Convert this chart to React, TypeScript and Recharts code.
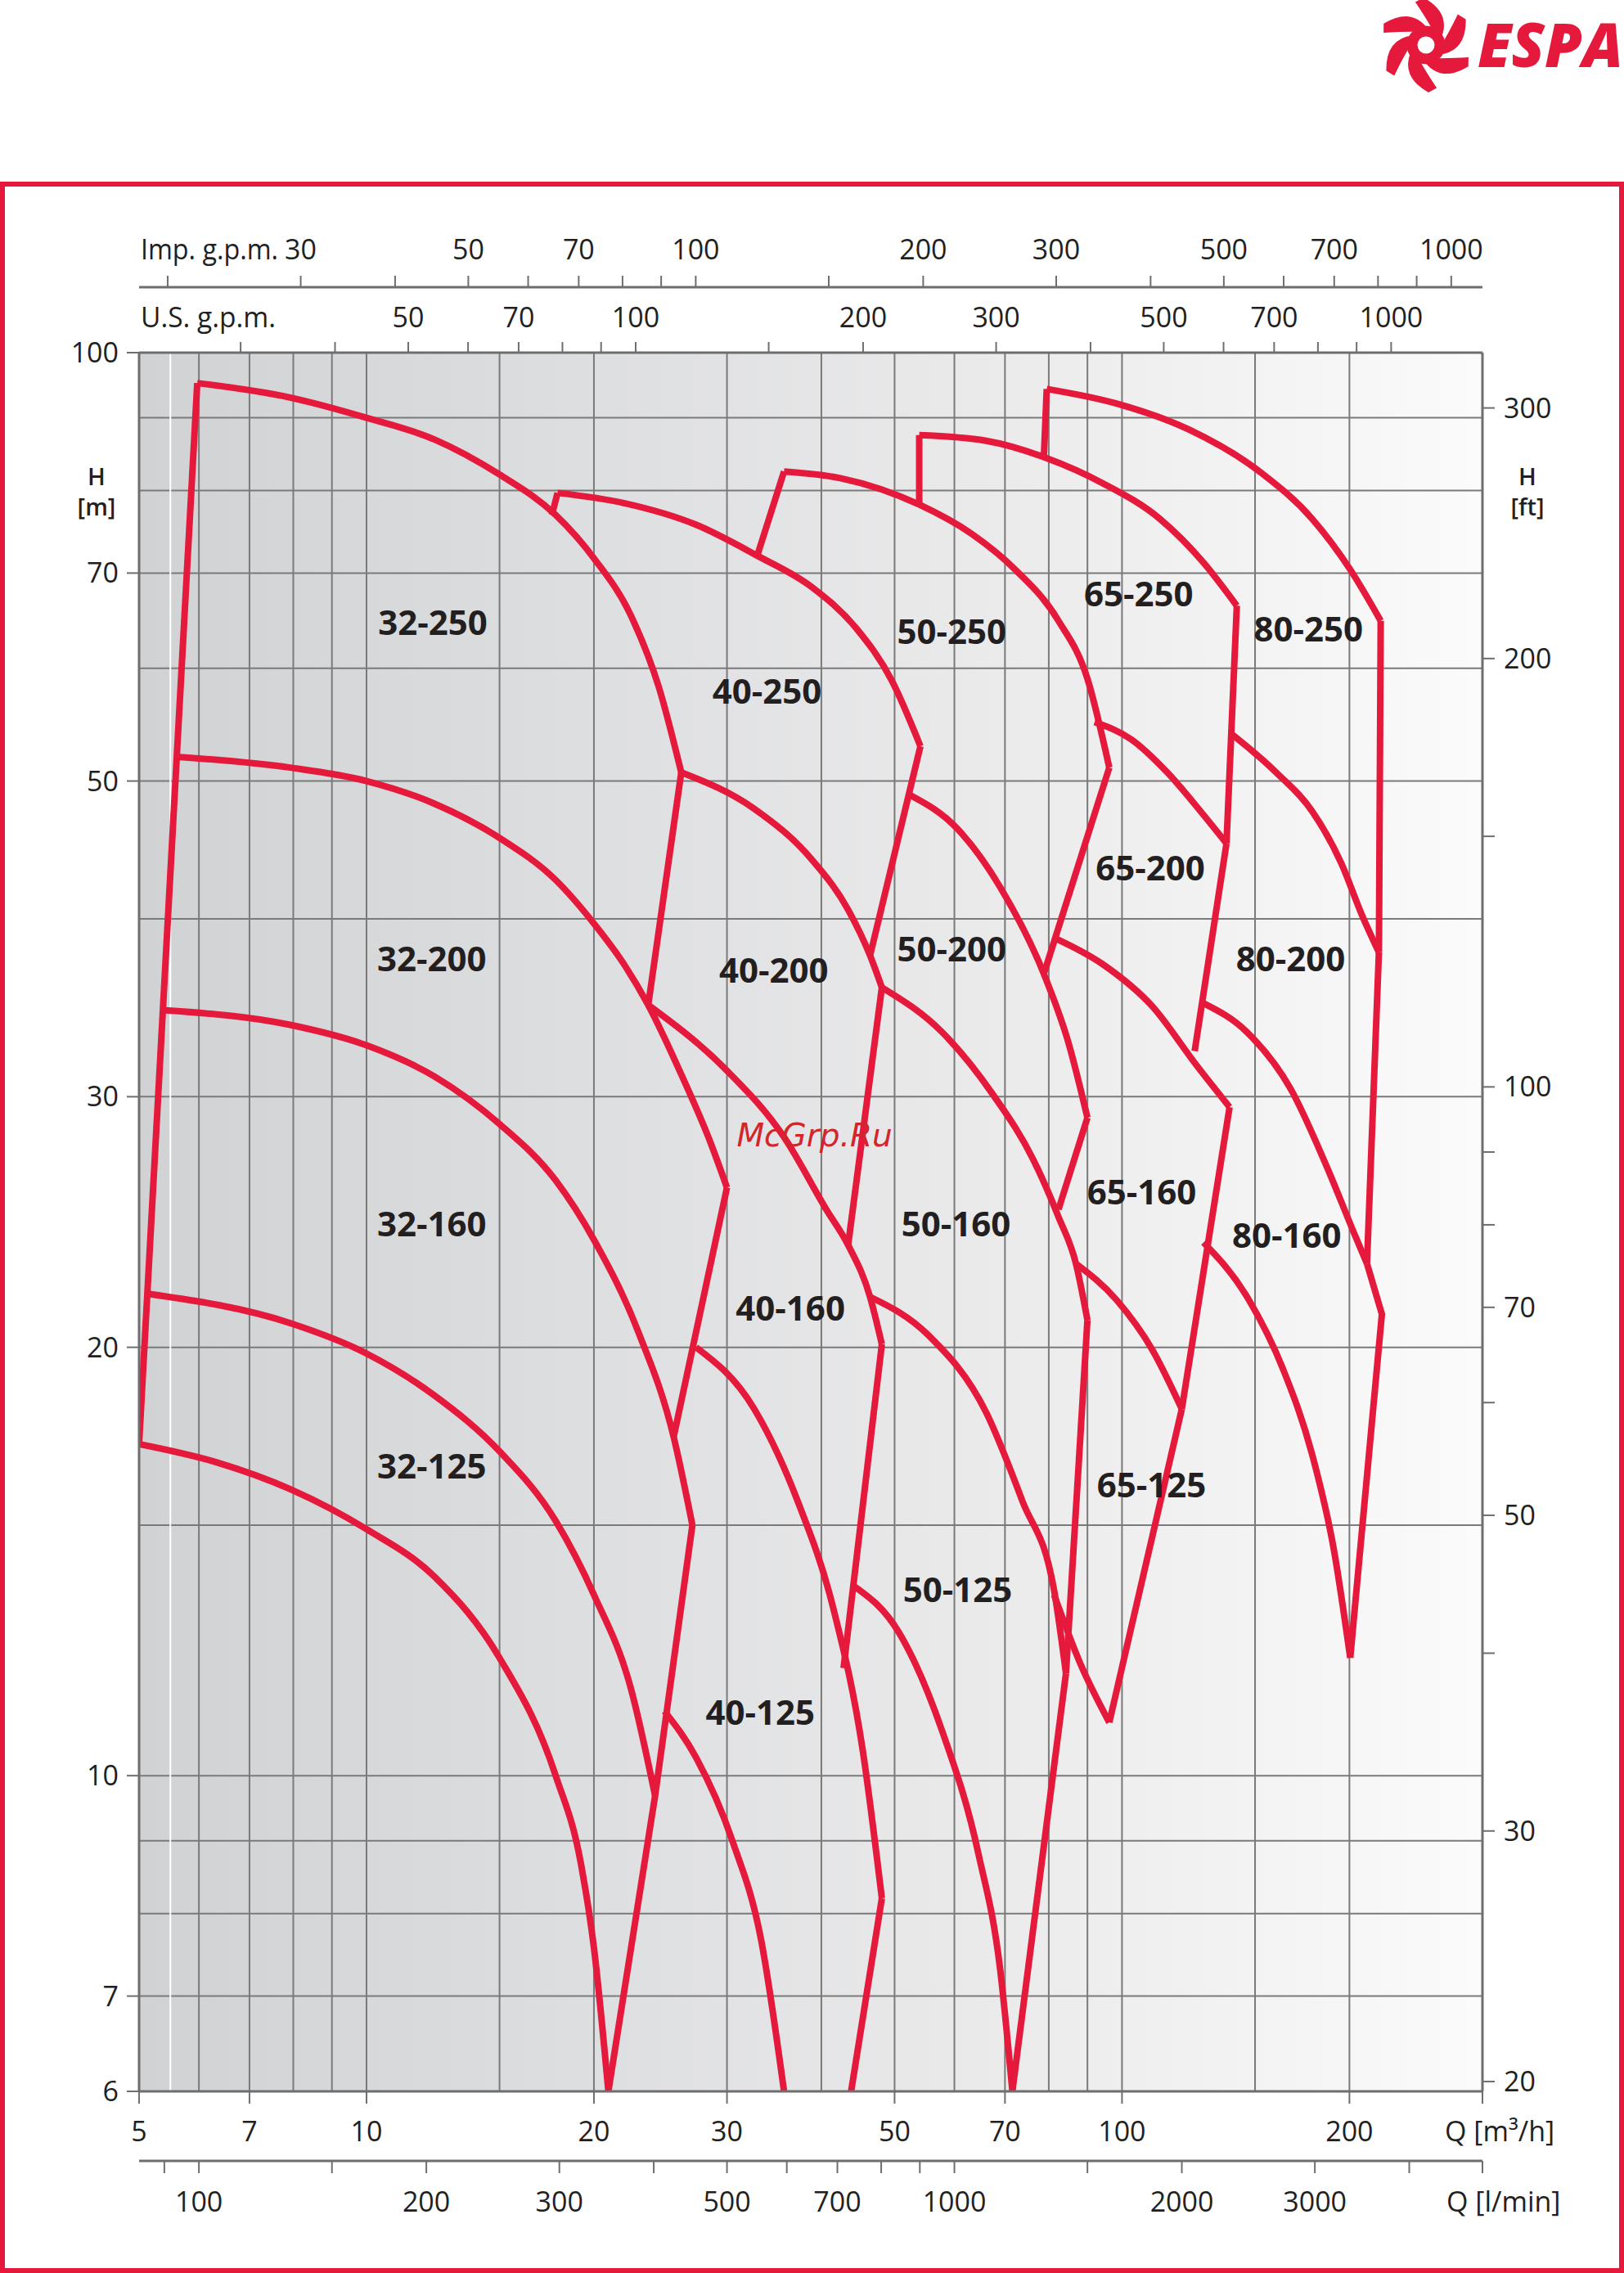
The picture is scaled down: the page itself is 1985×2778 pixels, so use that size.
import React from 'react';
import { LineChart, Line, XAxis, YAxis, CartesianGrid, ReferenceLine, ReferenceDot } from 'recharts';

const W = 1985;
const H = 2778;
const RED = '#e5193b';
const GRID = '#7a7a7a';
const AXIS = '#6e6e6e';
const INK = '#231f20';
const FONT = "'Open Sans', 'Noto Sans', 'DejaVu Sans', sans-serif";

// ---------- axes ----------
const qTicks = [5, 7, 10, 20, 30, 50, 70, 100, 200, 300];
const qLabels = [5, 7, 10, 20, 30, 50, 70, 100, 200];
const hTicks = [6, 7, 10, 20, 30, 50, 70, 100];
const gridQ = [6, 7, 8, 9, 10, 15, 20, 30, 40, 50, 60, 70, 80, 90, 100, 150, 200];
const gridH = [7, 8, 9, 10, 15, 20, 30, 40, 50, 60, 70, 80, 90];
const impTicks = [20, 30, 40, 50, 60, 70, 80, 90, 100, 150, 200, 300, 400, 500, 600, 700, 800, 900, 1000];
const impLabels = [30, 50, 70, 100, 200, 300, 500, 700, 1000];
const usTicks = [30, 40, 50, 60, 70, 80, 90, 100, 150, 200, 300, 400, 500, 600, 700, 800, 900, 1000];
const usLabels = [50, 70, 100, 200, 300, 500, 700, 1000];
const lminTicks = [90, 100, 150, 200, 300, 400, 500, 600, 700, 800, 900, 1000, 1500, 2000, 3000, 4000, 5000];
const lminLabels = [100, 200, 300, 500, 700, 1000, 2000, 3000];
const ftTicks = [20, 30, 40, 50, 60, 70, 80, 90, 100, 150, 200, 300];
const ftLabels = [20, 30, 50, 70, 100, 200, 300];

const Q_MIN = 5;
const Q_MAX = 300;
const H_MIN = 6;
const H_MAX = 100;
const IMP_M3H = 0.2727654; // m3/h per Imp. g.p.m.
const US_M3H = 0.2271247; // m3/h per U.S. g.p.m.
const LMIN_M3H = 0.06; // m3/h per l/min
const FT_M = 0.3048; // m per ft

// axis ids (ordered so that the first of each side sits next to the plot)
const XQ = 'b1q';
const XLMIN = 'b2lmin';
const XUS = 't1us';
const XIMP = 't2imp';
const YM = 'm';
const YFT = 'ft';

type Pt = [number, number]; // [Q m3/h, H m]

// ---------- family 32 ----------
const c32_250: Pt[] = [[5.97, 95.2], [7.92, 93.0], [10, 90.0], [12.3, 86.9], [15, 82.1], [17.8, 76.9], [20, 71.7], [22.4, 65.3], [24.4, 58.1], [26.1, 50.7]];
const c32_200: Pt[] = [[5.61, 52.0], [7.92, 51.1], [10, 50.0], [12.3, 48.2], [15, 45.6], [17.8, 42.6], [20, 39.7], [21.9, 37.2], [23.6, 34.8], [26.1, 31.1], [28.5, 27.9], [30, 25.9]];
const c32_160: Pt[] = [[5.41, 34.5], [7.92, 33.7], [10, 32.6], [12.3, 31.0], [15, 28.7], [17.8, 26.2], [20, 23.8], [22.9, 20.5], [25.5, 17.3], [27.0, 15.0]];
const c32_125: Pt[] = [[5.16, 21.8], [7.92, 20.8], [10, 19.8], [12.3, 18.5], [15, 16.9], [17.8, 15.1], [20, 13.4], [22.4, 11.5], [24.1, 9.68]];
const c32_min: Pt[] = [[5, 17.1], [6.34, 16.6], [7.92, 15.9], [10, 14.9], [12.3, 13.8], [15, 12.1], [17.8, 10.0], [19.2, 8.7], [20, 7.57], [20.9, 6.0]];
const b32: Pt[][] = [
  [[5, 17.1], [5.97, 95.2]],
  [[26.1, 50.7], [23.6, 34.8]],
  [[30, 25.9], [25.5, 17.3]],
  [[27.0, 15.0], [24.1, 9.68]],
  [[24.1, 9.68], [20.9, 6.0]],
];

// ---------- family 40 ----------
const c40_250: Pt[] = [[17.9, 79.7], [21.9, 78.4], [27.3, 75.7], [32.9, 72.0], [38.9, 68.4], [44.4, 64.1], [49.6, 58.8], [54.1, 52.9]];
const c40_200: Pt[] = [[26.1, 50.7], [32.6, 47.8], [38.9, 44.0], [43.4, 40.6], [46.4, 37.7], [48.1, 35.8]];
const c40_160: Pt[] = [[23.6, 34.8], [29.8, 31.4], [35.7, 28.1], [40.6, 25.0], [43.4, 23.6], [46.4, 21.7], [48.1, 20.1]];
const c40_125: Pt[] = [[27.3, 20.0], [32.6, 18.1], [37.2, 15.6], [41.5, 13.1], [45.4, 10.4], [48.1, 8.2]];
const c40_min: Pt[] = [[24.8, 11.1], [27.3, 10.3], [30.5, 9.0], [33.3, 7.66], [35.7, 6.0]];
const b40: Pt[][] = [
  [[17.6, 76.9], [17.9, 79.7]],
  [[54.1, 52.9], [46.4, 37.7]],
  [[48.1, 35.8], [43.4, 23.6]],
  [[48.1, 20.1], [42.8, 11.9]],
  [[48.1, 8.2], [43.8, 6.0]],
];

// ---------- family 50 ----------
const c50_250: Pt[] = [[35.7, 82.5], [42.5, 81.6], [53.9, 78.2], [63.2, 74.6], [72.2, 70.4], [82.4, 64.8], [90, 59.0], [96.2, 51.1]];
const c50_200: Pt[] = [[52.3, 48.9], [60.5, 46.3], [69.0, 42.1], [78.8, 36.6], [85.0, 32.7], [90, 29.0]];
const c50_160: Pt[] = [[48.1, 35.8], [57.8, 33.3], [67.5, 30.1], [76.3, 27.1], [82.4, 24.7], [86.9, 22.9], [90, 20.9]];
const c50_125: Pt[] = [[46.4, 21.7], [55.4, 20.4], [66.1, 18.0], [73.8, 15.6], [81.3, 13.5], [84.3, 11.8]];
const c50_min: Pt[] = [[44.1, 13.6], [50.7, 12.6], [57.8, 10.75], [64.6, 8.8], [69.0, 7.3], [71.6, 6.0]];
const b50: Pt[][] = [
  [[32.9, 72.0], [35.7, 82.5]],
  [[96.2, 51.1], [78.8, 36.6]],
  [[90, 29.0], [82.4, 25.0]],
  [[90, 20.9], [84.3, 11.8]],
  [[84.3, 11.8], [71.6, 6.0]],
];

// ---------- family 65 ----------
const c65_250: Pt[] = [[53.9, 87.5], [66.1, 86.7], [79.5, 84.3], [94.1, 81.0], [112.3, 76.4], [128.2, 71.2], [141.9, 66.4]];
const c65_200: Pt[] = [[92.0, 55.0], [102.8, 53.5], [114.8, 50.7], [127.1, 47.6], [137.5, 45.2]];
const c65_160: Pt[] = [[81.3, 38.8], [94.1, 37.2], [109.8, 34.7], [125.3, 31.6], [138.8, 29.5]];
const c65_125: Pt[] = [[86.9, 22.9], [98.3, 21.6], [109.8, 19.9], [120, 18.1]];
const c65_min: Pt[] = [[81.3, 13.4], [88.0, 12.0], [96.2, 10.9]];
const b65: Pt[][] = [
  [[53.9, 78.2], [53.9, 87.5]],
  [[141.9, 66.4], [137.5, 45.2]],
  [[137.5, 45.2], [124.8, 32.3]],
  [[138.8, 29.5], [120, 18.1]],
  [[120, 18.1], [96.2, 10.9]],
];

// ---------- family 80 ----------
const c80_250: Pt[] = [[79.5, 94.3], [98.3, 92.1], [122.6, 88.3], [153, 82.3], [178.6, 76.4], [200.5, 70.4], [220, 64.8]];
const c80_200: Pt[] = [[140, 53.9], [160, 50.7], [178.6, 47.6], [195, 43.8], [208, 40.2], [218.8, 37.9]];
const c80_160: Pt[] = [[128.2, 34.9], [146.4, 33.3], [167.1, 30.4], [186.6, 26.8], [203.9, 23.9], [211, 22.9]];
const c80_125: Pt[] = [[128.2, 23.7], [146.4, 21.7], [163.4, 19.3], [178.6, 16.8], [190.8, 14.4], [200.5, 12.1]];
const b80: Pt[][] = [
  [[78.8, 84.3], [79.5, 94.3]],
  [[220, 64.8], [218.8, 37.9]],
  [[218.8, 37.9], [211, 22.9]],
  [[211, 22.9], [220.8, 21.1], [200.5, 12.1]],
];

// ---------- region labels ----------
const labelNames = ['32-250', '32-200', '32-160', '32-125', '40-250', '40-200', '40-160', '40-125', '50-250', '50-200', '50-160', '50-125', '65-250', '65-200', '65-160', '65-125', '80-250', '80-200', '80-160'];
const labelQ = [12.24, 12.2, 12.2, 12.2, 33.9, 34.6, 36.4, 33.2, 59.5, 59.5, 60.3, 60.6, 105.2, 109.0, 106.2, 109.4, 176.5, 167.2, 165.2];
const labelH = [64.6, 37.5, 24.4, 16.5, 57.8, 36.8, 21.3, 11.07, 63.7, 38.1, 24.4, 13.5, 67.7, 43.4, 25.7, 16.0, 63.9, 37.5, 23.96];

const watermark = { text: 'McGrp.Ru', q: 30.9, h: 27.7 };

const smoothCurves: Pt[][] = [
  c32_250, c32_200, c32_160, c32_125, c32_min,
  c40_250, c40_200, c40_160, c40_125, c40_min,
  c50_250, c50_200, c50_160, c50_125, c50_min,
  c65_250, c65_200, c65_160, c65_125, c65_min,
  c80_250, c80_200, c80_160, c80_125,
];
const straightLines: Pt[][] = [...b32, ...b40, ...b50, ...b65, ...b80];

const toRows = (pts: Pt[]) => pts.map(([q, h]) => ({ q, h }));

// invisible spans that give each secondary scale its range
const spanRows = (lo: number, hi: number) => [{ v: lo, h: 50 }, { v: hi, h: 50 }];
const LMIN_SPAN = spanRows(Q_MIN / LMIN_M3H, Q_MAX / LMIN_M3H);
const US_SPAN = spanRows(Q_MIN / US_M3H, Q_MAX / US_M3H);
const IMP_SPAN = spanRows(Q_MIN / IMP_M3H, Q_MAX / IMP_M3H);

const near = (a: number, b: number) => Math.abs(a - b) <= Math.abs(b) * 1e-6;

function makeTick(labels: number[], dy: number, anchor: 'start' | 'middle' | 'end', special?: { value: number; text: string; dx: number }) {
  return (props: any) => {
    const { x, y, payload } = props;
    const v = Number(payload && payload.value);
    if (special && near(v, special.value)) {
      return (
        <text x={x + special.dx} y={y + dy} textAnchor="start" fontFamily={FONT} fontSize={34} fill={INK}>
          {special.text}
        </text>
      );
    }
    if (!labels.some((l) => near(v, l))) return <g />;
    return (
      <text x={x} y={y + dy} textAnchor={anchor} fontFamily={FONT} fontSize={34} fill={INK}>
        {String(v)}
      </text>
    );
  };
}

const BottomQTick = makeTick(qLabels, 46, 'middle', { value: 300, text: 'Q [m³/h]', dx: -46 });
const LminTick = makeTick(lminLabels, 47, 'middle', { value: 5000, text: 'Q [l/min]', dx: -44 });
const UsTick = makeTick(usLabels, -18, 'middle');
const ImpTick = makeTick(impLabels, -20, 'middle');
const LeftTick = makeTick(hTicks, 12, 'end');
const RightTick = makeTick(ftLabels, 12, 'start');

const TICK_LINE = { stroke: AXIS, strokeWidth: 2 };
const AXIS_LINE = { stroke: AXIS, strokeWidth: 3 };

function polar(cx: number, cy: number, r: number, deg: number) {
  const a = (deg * Math.PI) / 180;
  return `${(cx + r * Math.cos(a)).toFixed(1)},${(cy + r * Math.sin(a)).toFixed(1)}`;
}

function Logo() {
  const cx = 1743;
  const cy = 55;
  const tips = [-156, -96, -36, 24, 84, 144];
  return (
    <g>
      {tips.map((t) => (
        <path
          key={t}
          d={`M${polar(cx, cy, 20, t + 72)} Q${polar(cx, cy, 50, t + 45)} ${polar(cx, cy, 58, t + 3)} L${polar(cx, cy, 54, t - 8)} Q${polar(cx, cy, 33, t + 6)} ${polar(cx, cy, 20, t + 30)} Z`}
          fill={RED}
        />
      ))}
      <circle cx={cx} cy={cy} r={17} fill="none" stroke={RED} strokeWidth={13} />
      <text x={1806} y={82} fontFamily={FONT} fontSize={74} fontWeight={800} fontStyle="italic" fill={RED} textLength={178} lengthAdjust="spacingAndGlyphs">
        ESPA
      </text>
    </g>
  );
}

const lineProps = {
  xAxisId: XQ,
  yAxisId: YM,
  dataKey: 'h',
  stroke: RED,
  strokeWidth: 8,
  dot: false,
  activeDot: false,
  isAnimationActive: false,
  legendType: 'none' as const,
  strokeLinejoin: 'miter' as const,
  strokeLinecap: 'butt' as const,
};
const hiddenProps = {
  yAxisId: YM,
  dataKey: 'h',
  stroke: 'none',
  strokeWidth: 0,
  dot: false,
  activeDot: false,
  isAnimationActive: false,
  legendType: 'none' as const,
  type: 'linear' as const,
};

export default function App() {
  return (
    <div style={{ position: 'absolute', left: 0, top: 0, width: W, height: H, background: '#ffffff', overflow: 'hidden' }}>
      <LineChart width={W} height={H} margin={{ top: 221, right: 0, bottom: 37, left: 0 }}>
        <defs>
          <linearGradient id="bgGrad" x1="0" y1="0" x2="1" y2="0">
            <stop offset="0" stopColor="#d1d2d4" />
            <stop offset="0.3" stopColor="#dcdddf" />
            <stop offset="0.6" stopColor="#e9e9ea" />
            <stop offset="0.85" stopColor="#f4f4f4" />
            <stop offset="1" stopColor="#fbfbfb" />
          </linearGradient>
        </defs>
        <CartesianGrid
          xAxisId={XQ}
          yAxisId={YM}
          fill="url(#bgGrad)"
          fillOpacity={1}
          stroke={GRID}
          strokeWidth={2}
          horizontalValues={gridH}
          verticalValues={gridQ}
        />
        <ReferenceLine xAxisId={XQ} yAxisId={YM} x={5.5} stroke="#ffffff" strokeWidth={2} zIndex={-50} />

        <XAxis
          xAxisId={XQ}
          dataKey="q"
          type="number"
          scale="log"
          domain={[Q_MIN, Q_MAX]}
          allowDataOverflow
          ticks={qTicks}
          interval={0}
          orientation="bottom"
          height={85}
          tickSize={15}
          tickMargin={0}
          tickLine={TICK_LINE}
          axisLine={AXIS_LINE}
          tick={BottomQTick}
        />
        <XAxis
          xAxisId={XLMIN}
          dataKey="v"
          type="number"
          scale="log"
          domain={[Q_MIN / LMIN_M3H, Q_MAX / LMIN_M3H]}
          allowDataOverflow
          ticks={lminTicks}
          interval={0}
          orientation="bottom"
          height={100}
          tickSize={15}
          tickMargin={0}
          tickLine={TICK_LINE}
          axisLine={AXIS_LINE}
          tick={LminTick}
        />
        <XAxis
          xAxisId={XUS}
          dataKey="v"
          type="number"
          scale="log"
          domain={[Q_MIN / US_M3H, Q_MAX / US_M3H]}
          allowDataOverflow
          ticks={usTicks}
          interval={0}
          orientation="top"
          height={80}
          tickSize={13}
          tickMargin={0}
          tickLine={TICK_LINE}
          axisLine={AXIS_LINE}
          tick={UsTick}
        />
        <XAxis
          xAxisId={XIMP}
          dataKey="v"
          type="number"
          scale="log"
          domain={[Q_MIN / IMP_M3H, Q_MAX / IMP_M3H]}
          allowDataOverflow
          ticks={impTicks}
          interval={0}
          orientation="top"
          height={130}
          tickSize={14}
          tickMargin={0}
          tickLine={TICK_LINE}
          axisLine={AXIS_LINE}
          tick={ImpTick}
        />
        <YAxis
          yAxisId={YM}
          type="number"
          scale="log"
          domain={[H_MIN, H_MAX]}
          allowDataOverflow
          ticks={hTicks}
          interval={0}
          orientation="left"
          width={170}
          tickSize={15}
          tickMargin={10}
          tickLine={TICK_LINE}
          axisLine={AXIS_LINE}
          tick={LeftTick}
        />
        <YAxis
          yAxisId={YFT}
          type="number"
          scale="log"
          domain={[H_MIN / FT_M, H_MAX / FT_M]}
          allowDataOverflow
          ticks={ftTicks}
          interval={0}
          orientation="right"
          width={173}
          tickSize={15}
          tickMargin={11}
          tickLine={TICK_LINE}
          axisLine={AXIS_LINE}
          tick={RightTick}
        />

        <Line {...hiddenProps} xAxisId={XLMIN} data={LMIN_SPAN} />
        <Line {...hiddenProps} xAxisId={XUS} data={US_SPAN} />
        <Line {...hiddenProps} xAxisId={XIMP} data={IMP_SPAN} />

        {smoothCurves.map((pts, i) => (
          <Line key={`c${i}`} {...lineProps} data={toRows(pts)} type="monotone" />
        ))}
        {straightLines.map((pts, i) => (
          <Line key={`s${i}`} {...lineProps} data={toRows(pts)} type="linear" />
        ))}

        {labelNames.map((name, i) => (
          <ReferenceDot
            key={name}
            xAxisId={XQ}
            yAxisId={YM}
            x={labelQ[i]}
            y={labelH[i]}
            r={0}
            fill="none"
            stroke="none"
            shape={(p: any) => (
              <text x={p.cx} y={p.cy + 15} textAnchor="middle" fontFamily={FONT} fontSize={42} fontWeight={700} fill={INK}>
                {name}
              </text>
            )}
          />
        ))}
        <ReferenceDot
          xAxisId={XQ}
          yAxisId={YM}
          x={watermark.q}
          y={watermark.h}
          r={0}
          fill="none"
          stroke="none"
          shape={(p: any) => (
            <text x={p.cx} y={p.cy} textAnchor="start" fontFamily="'DejaVu Sans', sans-serif" fontSize={39} fontStyle="italic" fill="#d2262c">
              {watermark.text}
            </text>
          )}
        />
      </LineChart>

      <svg width={W} height={H} style={{ position: 'absolute', left: 0, top: 0, pointerEvents: 'none' }}>
        <rect x={3} y={225} width={1979} height={2550} fill="none" stroke={RED} strokeWidth={6} />
        <Logo />
        <text x={172} y={317} fontFamily={FONT} fontSize={34} fill={INK} textLength={168} lengthAdjust="spacingAndGlyphs">Imp. g.p.m.</text>
        <text x={172} y={400} fontFamily={FONT} fontSize={34} fill={INK} textLength={165} lengthAdjust="spacingAndGlyphs">U.S. g.p.m.</text>
        <text x={118} y={593} textAnchor="middle" fontFamily={FONT} fontSize={29} fontWeight={600} fill={INK}>H</text>
        <text x={118} y={630} textAnchor="middle" fontFamily={FONT} fontSize={29} fontWeight={600} fill={INK}>[m]</text>
        <text x={1867} y={593} textAnchor="middle" fontFamily={FONT} fontSize={29} fontWeight={600} fill={INK}>H</text>
        <text x={1867} y={630} textAnchor="middle" fontFamily={FONT} fontSize={29} fontWeight={600} fill={INK}>[ft]</text>
      </svg>
    </div>
  );
}
